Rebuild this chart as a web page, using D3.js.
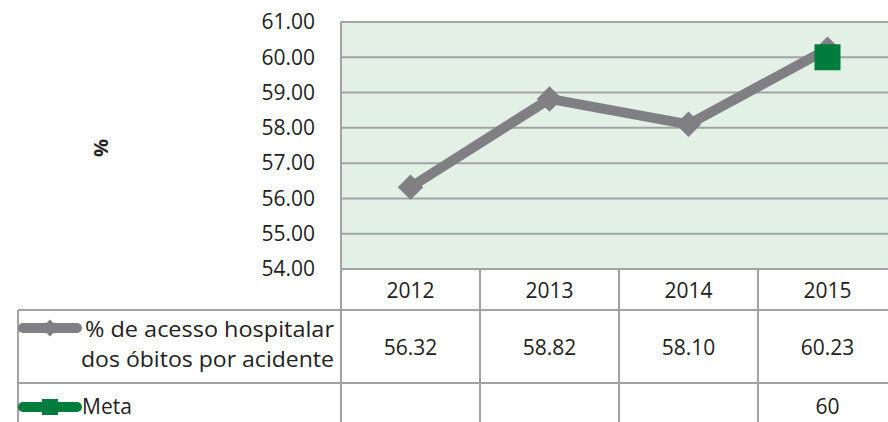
<!DOCTYPE html>
<html>
<head>
<meta charset="utf-8">
<script src="https://cdn.jsdelivr.net/npm/d3@7"></script>
<style>
  body { margin: 0; background: #fff; }
  svg { display: block; font-family: "Open Sans", sans-serif; }
</style>
</head>
<body>
<svg id="chart" width="888" height="422"></svg>
<script>
const years = ["2012", "2013", "2014", "2015"];
const acesso = [56.32, 58.82, 58.10, 60.23];
const meta = [null, null, null, 60];
const yTicks = [54, 55, 56, 57, 58, 59, 60, 61];
const seriesLabel = ["% de acesso hospitalar", "dos óbitos por acidente"];
const metaLabel = "Meta";

const grey = "#7f7f84",
      green = "#007d3c",
      gridColor = "#a3a3a3",
      ink = "#222";

const svg = d3.select("#chart");
const margin = { left: 341, top: 22 },
      colW = 139,
      plotH = 247;

const xScale = d3.scaleBand().domain(years)
    .range([margin.left, margin.left + colW * years.length]);
const yScale = d3.scaleLinear().domain([54, 61])
    .range([margin.top + plotH, margin.top]);

// plot background
svg.append("rect")
    .attr("x", margin.left).attr("y", margin.top)
    .attr("width", colW * years.length).attr("height", plotH)
    .attr("fill", "#e2f0e6");

// y axis labels
const yAxis = d3.axisLeft(yScale)
    .tickValues(yTicks)
    .tickFormat(d3.format(".2f"))
    .tickSize(0)
    .tickPadding(26);
const yG = svg.append("g")
    .attr("transform", `translate(${margin.left},0)`)
    .call(yAxis);
yG.select(".domain").remove();
yG.selectAll("text").attr("font-size", 21).attr("fill", ink)
    .attr("font-family", "Open Sans, sans-serif");

// gridlines
svg.append("g").selectAll("line")
    .data(yTicks)
    .join("line")
    .attr("x1", margin.left).attr("x2", margin.left + colW * years.length)
    .attr("y1", d => yScale(d)).attr("y2", d => yScale(d))
    .attr("stroke", gridColor).attr("stroke-width", 2);

// left plot border
svg.append("line")
    .attr("x1", margin.left).attr("x2", margin.left)
    .attr("y1", margin.top).attr("y2", 422)
    .attr("stroke", gridColor).attr("stroke-width", 2);

// y title
svg.append("text")
    .attr("transform", "translate(108,148) rotate(-90)")
    .attr("text-anchor", "middle")
    .attr("font-size", 20).attr("font-weight", "bold").attr("fill", ink)
    .text("%");

// data table grid
const rowY = [269, 310, 383, 422];
const tableLeft = 18,
      tableRight = margin.left + colW * years.length;
const tbl = svg.append("g").attr("stroke", gridColor).attr("stroke-width", 2);
tbl.append("line").attr("x1", margin.left).attr("x2", tableRight)
    .attr("y1", rowY[0]).attr("y2", rowY[0]);
tbl.selectAll(".hline").data(rowY.slice(1, 3)).join("line")
    .attr("x1", tableLeft).attr("x2", tableRight)
    .attr("y1", d => d).attr("y2", d => d);
tbl.append("line").attr("x1", tableLeft).attr("x2", tableLeft)
    .attr("y1", rowY[1]).attr("y2", 422);
tbl.selectAll(".vline").data(years.slice(1)).join("line")
    .attr("x1", d => xScale(d)).attr("x2", d => xScale(d))
    .attr("y1", rowY[0]).attr("y2", 422);

const cx = d => xScale(d) + xScale.bandwidth() / 2;

// header years
svg.append("g").selectAll("text").data(years).join("text")
    .attr("x", cx).attr("y", 298)
    .attr("text-anchor", "middle").attr("font-size", 21).attr("fill", ink)
    .text(d => d);

// series values
svg.append("g").selectAll("text").data(years).join("text")
    .attr("x", cx).attr("y", 355)
    .attr("text-anchor", "middle").attr("font-size", 21).attr("fill", ink)
    .text((d, i) => d3.format(".2f")(acesso[i]));

svg.append("g").selectAll("text").data(years.filter((d, i) => meta[i] != null)).join("text")
    .attr("x", cx).attr("y", 414)
    .attr("text-anchor", "middle").attr("font-size", 21).attr("fill", ink)
    .text(d => meta[years.indexOf(d)]);

// row labels
seriesLabel.forEach((t, i) => {
    svg.append("text")
        .attr("x", 334).attr("y", 337 + i * 30)
        .attr("text-anchor", "end").attr("font-size", 21).attr("fill", ink)
        .attr("textLength", i === 0 ? 249 : 253).attr("lengthAdjust", "spacingAndGlyphs")
        .text(t);
});
svg.append("text")
    .attr("x", 82).attr("y", 414)
    .attr("font-size", 21).attr("fill", ink)
    .text(metaLabel);

// legend keys
svg.append("line").attr("x1", 23).attr("x2", 77).attr("y1", 328).attr("y2", 328)
    .attr("stroke", grey).attr("stroke-width", 10).attr("stroke-linecap", "round");
svg.append("rect").attr("x", -6).attr("y", -6).attr("width", 12).attr("height", 12)
    .attr("transform", "translate(50,328) rotate(45)").attr("fill", grey);
svg.append("line").attr("x1", 23).attr("x2", 77).attr("y1", 407).attr("y2", 407)
    .attr("stroke", green).attr("stroke-width", 10).attr("stroke-linecap", "round");
svg.append("rect").attr("x", 42).attr("y", 399).attr("width", 16).attr("height", 16)
    .attr("fill", green);

// series line
const line = d3.line()
    .x((d, i) => cx(years[i]))
    .y(d => yScale(d));
svg.append("path").datum(acesso)
    .attr("d", line)
    .attr("fill", "none").attr("stroke", grey).attr("stroke-width", 10)
    .attr("stroke-linejoin", "round");
svg.append("g").selectAll("rect").data(acesso).join("rect")
    .attr("x", -9).attr("y", -9).attr("width", 18).attr("height", 18)
    .attr("transform", (d, i) => `translate(${cx(years[i])},${yScale(d)}) rotate(45)`)
    .attr("fill", grey);

// meta markers
svg.append("g").selectAll(".meta").data(meta.map((v, i) => ({ v, y: years[i] })).filter(d => d.v != null))
    .join("rect")
    .attr("x", d => cx(d.y) - 13).attr("y", d => yScale(d.v) - 13)
    .attr("width", 26).attr("height", 26)
    .attr("fill", green);
</script>
</body>
</html>
